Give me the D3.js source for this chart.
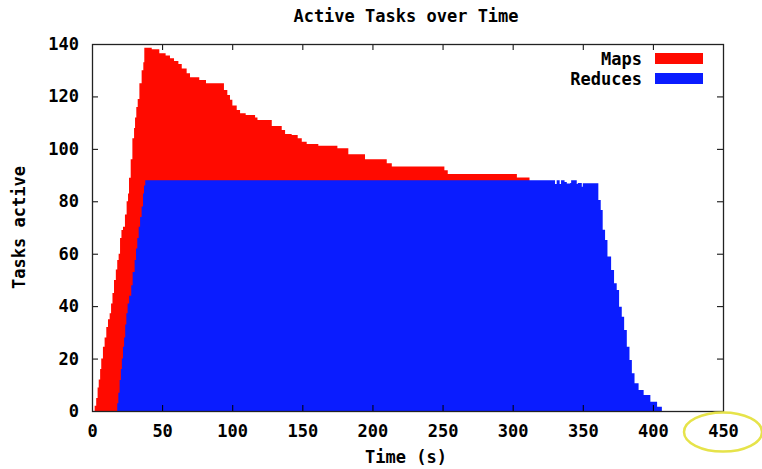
<!DOCTYPE html>
<html>
<head>
<meta charset="utf-8">
<script src="https://cdn.jsdelivr.net/npm/d3@7"></script>
<style>
  body { margin: 0; background: #fff; }
  text { font-family: "DejaVu Sans Mono", monospace; font-weight: bold; fill: #000; }
</style>
</head>
<body>
<div id="chart"></div>
<script>
// Active tasks over time (gnuplot style step areas)

const xTicks = [0, 50, 100, 150, 200, 250, 300, 350, 400, 450];
const yTicks = [0, 20, 40, 60, 80, 100, 120, 140];

// Maps: time (s) where the count changes, and the new count
const mapsTime = [0, 1.9, 3, 4, 4.8, 5.8, 6.6, 7.8, 9, 10.2, 11.4, 12.6, 13.6, 14.6, 15.7, 17, 18, 19, 20, 21,
  22.1, 23.5, 24.7, 25.7, 26.4, 27.6, 28.8, 30, 30.7, 31.6, 32.6, 33.8, 35.4, 36.6, 37.3, 42.6, 48, 52.5,
  55.6, 58.5, 61.6, 64, 67.5, 69.9, 76.5, 81.3, 94.1, 96.5, 98.4, 100.1, 103.2, 105.6, 109.6, 116.3, 118,
  128.2, 135.3, 137.7, 142.4, 146.7, 149.6, 153.1, 161.4, 175, 182.8, 194.7, 210.2, 213.8, 251.3, 253.7,
  303, 312, 450];
const mapsActive = [0, 2, 5, 9, 12, 16, 20, 24.5, 28, 32, 35, 37.3, 41, 45, 50, 54, 57.6, 60, 66, 69,
  70.3, 75, 80, 83, 89, 96, 104, 108, 112, 116, 119, 125, 130, 133, 138.6, 138, 136.5, 135.6,
  134.6, 133.5, 132.4, 130.7, 128.8, 127.3, 126.3, 125, 122.5, 120.5, 118.7, 116.5, 114.8, 113.6, 112.9, 112, 111,
  108.7, 107.2, 105.7, 105.3, 104, 102.7, 101.9, 101.2, 100.2, 97.9, 96, 94.5, 93.3, 91.8, 90.4,
  89.1, 0, 0];

// Reduces
const reducesTime = [0, 18, 18.8, 19.7, 20.6, 21.3, 22.1, 22.9, 23.7, 24.5, 25.4, 26.5, 28, 29, 30.4, 31.4,
  32.3, 33.3, 34.3, 35.4, 36.4, 37.1, 38, 330.2, 331.4, 333.5, 334.5, 337, 338.6, 341, 341.7, 345.7, 346.4,
  349.3, 350, 361.1, 362.8, 364.2, 365.9, 367.6, 370.2, 372.3, 374.2, 375.9, 377.8, 379.5, 381.4, 383.3,
  385, 386.9, 389.8, 393.4, 398.2, 403, 406.4, 407.5, 450];
const reducesActive = [0, 3, 7, 11.8, 16, 20, 24.5, 28, 33, 37.3, 41, 44, 48, 53, 57.6, 62,
  66, 70.3, 74, 78, 83, 86, 88, 86.6, 88, 86.6, 88, 87.4, 86.8, 87, 88, 86.6, 87,
  85.5, 86.9, 80.5, 76.7, 69.1, 65.2, 58.9, 53.8, 48.7, 46.2, 39.8, 36, 30.9, 24.5, 19.5,
  14.4, 10.6, 8, 6.1, 3.5, 1.6, 0, 0, 0];

const width = 762;
const height = 469;
const margin = { top: 44, right: 39, bottom: 58, left: 92 };

const svg = d3.select("#chart")
  .append("svg")
  .attr("width", width)
  .attr("height", height);

const x = d3.scaleLinear().domain([0, 450]).range([margin.left, width - margin.right]);
const y = d3.scaleLinear().domain([0, 140]).range([height - margin.bottom, margin.top]);

const area = d3.area()
  .curve(d3.curveStepAfter)
  .x(d => x(d[0]))
  .y0(y(0))
  .y1(d => y(d[1]));

const maps = mapsTime.map((t, i) => [t, mapsActive[i]]);
const reduces = reducesTime.map((t, i) => [t, reducesActive[i]]);

svg.append("path").datum(maps).attr("d", area).attr("fill", "#ff0a00");
svg.append("path").datum(reduces).attr("d", area).attr("fill", "#0a1cff");

// Frame with inward ticks on all sides
const tickLen = 6;
const axisBottom = d3.axisBottom(x).tickValues(xTicks).tickSizeInner(-tickLen).tickSizeOuter(0).tickPadding(14);
const axisTop = d3.axisTop(x).tickValues(xTicks).tickSizeInner(-tickLen).tickSizeOuter(0).tickFormat("");
const axisLeft = d3.axisLeft(y).tickValues(yTicks).tickSizeInner(-tickLen).tickSizeOuter(0).tickPadding(13);
const axisRight = d3.axisRight(y).tickValues(yTicks).tickSizeInner(-tickLen).tickSizeOuter(0).tickFormat("");

const gb = svg.append("g").attr("transform", `translate(0,${height - margin.bottom})`).call(axisBottom);
svg.append("g").attr("transform", `translate(0,${margin.top})`).call(axisTop);
const gl = svg.append("g").attr("transform", `translate(${margin.left},0)`).call(axisLeft);
svg.append("g").attr("transform", `translate(${width - margin.right},0)`).call(axisRight);

svg.selectAll(".domain").remove();
svg.selectAll(".tick line").attr("stroke", "#000");
svg.selectAll(".tick text")
  .attr("font-family", "DejaVu Sans Mono")
  .attr("font-weight", "bold")
  .attr("font-size", 17)
  .attr("fill", "#000");

svg.append("rect")
  .attr("x", margin.left + 0.5)
  .attr("y", margin.top + 0.5)
  .attr("width", width - margin.left - margin.right)
  .attr("height", height - margin.top - margin.bottom)
  .attr("fill", "none")
  .attr("stroke", "#222")
  .attr("stroke-width", 1.3);

// Title and axis labels
svg.append("text")
  .attr("x", 406).attr("y", 22)
  .attr("text-anchor", "middle")
  .attr("font-size", 17)
  .text("Active Tasks over Time");

svg.append("text")
  .attr("x", 406).attr("y", 463)
  .attr("text-anchor", "middle")
  .attr("font-size", 17)
  .text("Time (s)");

svg.append("text")
  .attr("transform", `translate(25,${(margin.top + height - margin.bottom) / 2}) rotate(-90)`)
  .attr("text-anchor", "middle")
  .attr("font-size", 17)
  .text("Tasks active");

// Legend
const legend = [
  { name: "Maps", color: "#ff0a00" },
  { name: "Reduces", color: "#0a1cff" }
];
const lg = svg.append("g");
legend.forEach((d, i) => {
  lg.append("text")
    .attr("x", 642).attr("y", 65 + i * 20)
    .attr("text-anchor", "end")
    .attr("font-size", 17)
    .text(d.name);
  lg.append("rect")
    .attr("x", 655).attr("y", 53 + i * 20)
    .attr("width", 48).attr("height", 11)
    .attr("fill", d.color);
});

// Yellow highlight ring around the last tick label
svg.append("ellipse")
  .attr("cx", x(450)).attr("cy", 432)
  .attr("rx", 39).attr("ry", 19.5)
  .attr("fill", "none")
  .attr("stroke", "#e6e34a")
  .attr("stroke-width", 2.5);
</script>
</body>
</html>
